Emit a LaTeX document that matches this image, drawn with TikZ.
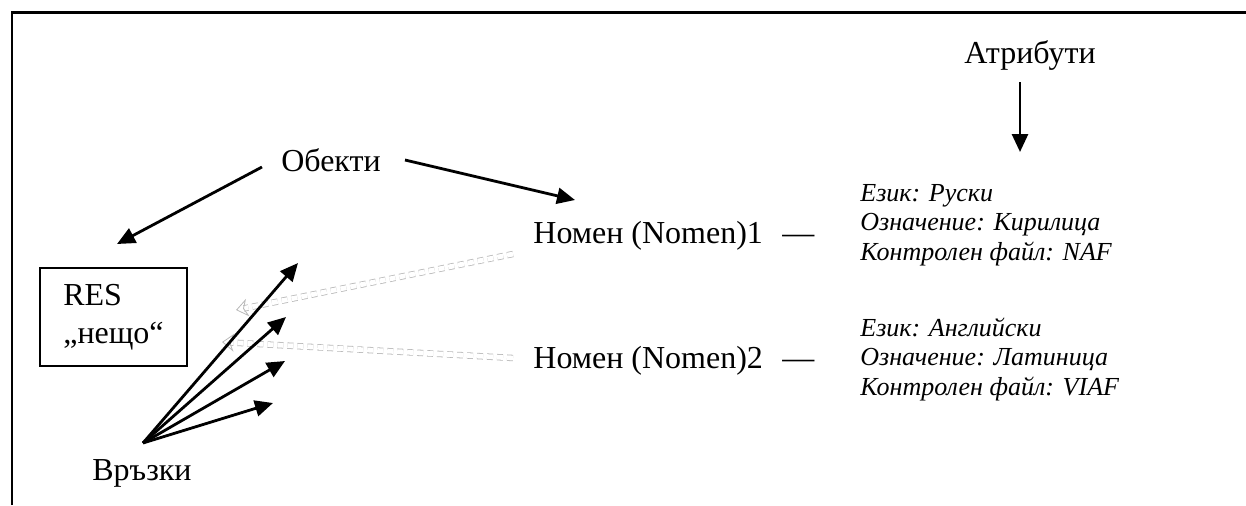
\documentclass[tikz,border=0pt]{standalone}
\usepackage{fontspec}
\setmainfont{Liberation Serif}
\usetikzlibrary{arrows.meta}

\begin{document}
\begin{tikzpicture}[x=0.5pt,y=-0.5pt,
	arr/.style={-{Triangle[length=9pt,width=8pt]},line width=1.4pt},
	ghost/.style={-{Stealth[length=6pt,width=9pt,open]},draw=gray!55,double=white,double distance=2.4pt,line width=0.4pt,densely dashed},
	lbl/.style={font=\fontsize{16}{19}\selectfont,inner sep=0pt},
	attr/.style={font=\fontsize{13}{14.75}\selectfont\itshape,align=left,anchor=base west,inner sep=0pt}]
	\useasboundingbox (0,0) rectangle (1246,505);
	\draw[line width=1.3pt] (12,505) -- (12,12.5) -- (1246,12.5);
	\node[lbl,anchor=base] (atr) at (1030,63) {Атрибути};
	\node[lbl,anchor=base] (obj) at (331,171) {Обекти};
	\node[lbl,draw,line width=0.65pt,minimum width=73.5pt,minimum height=49pt,align=left] (res) at (113.5,317) {RES\\„нещо“};
	\node[lbl,anchor=base west] (nom1) at (533,243) {Номен (Nomen)1};
	\node[lbl,anchor=base west] (nom2) at (533,368) {Номен (Nomen)2};
	\node[lbl,anchor=base west] (dash1) at (782,243) {—};
	\node[lbl,anchor=base west] (dash2) at (782,368) {—};
	\node[attr] (attr1) at (860,260) {Език: Руски\\Означение: Кирилица\\Контролен файл: NAF};
	\node[attr] (attr2) at (860,395) {Език: Английски\\Означение: Латиница\\Контролен файл: VIAF};
	\node[lbl,anchor=base] (vr) at (142,480) {Връзки};
	\coordinate (atr-s) at (1020,82);
	\coordinate (atr-e) at (1020,152);
	\coordinate (obj-l) at (262,167);
	\coordinate (obj-r) at (405,160);
	\coordinate (res-in) at (117,244);
	\coordinate (nom-in) at (575,200);
	\coordinate (fan) at (143,443);
	\coordinate (r1) at (298,263);
	\coordinate (r2) at (286,317);
	\coordinate (r3) at (285,361);
	\coordinate (r4) at (273,403);
	\coordinate (g1) at (513,254);
	\coordinate (g1e) at (236,310);
	\coordinate (g2) at (513,358);
	\coordinate (g2e) at (222,342);
	\draw[ghost] (g1) -- (g1e);
	\draw[ghost] (g2) -- (g2e);
	\draw[arr] (atr-s) -- (atr-e);
	\draw[arr] (obj-l) -- (res-in);
	\draw[arr] (obj-r) -- (nom-in);
	\foreach \t in {r1,r2,r3,r4}
		\draw[arr] (fan) -- (\t);
\end{tikzpicture}
\end{document}
